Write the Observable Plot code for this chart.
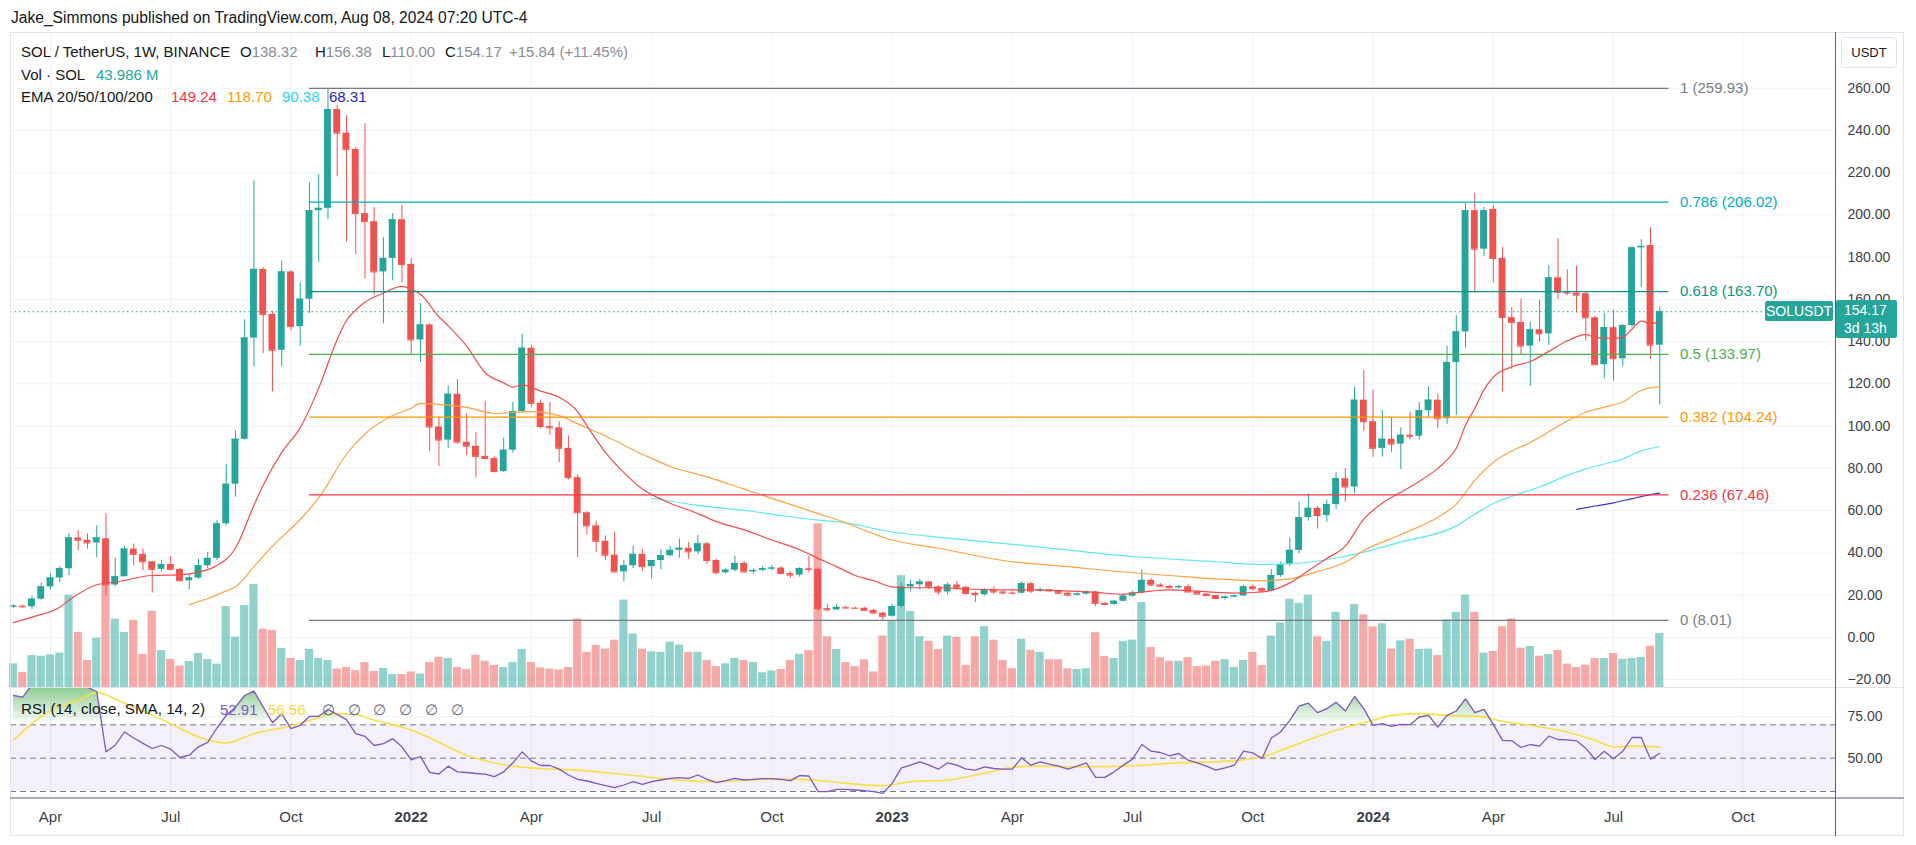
<!DOCTYPE html>
<html>
<head>
<meta charset="utf-8">
<script src="https://cdn.jsdelivr.net/npm/d3@7"></script>
<script src="https://cdn.jsdelivr.net/npm/@observablehq/plot@0.6"></script>
<style>
  html, body { margin: 0; padding: 0; background: #ffffff; }
  #root { position: relative; width: 1916px; height: 845px; overflow: hidden; background: #ffffff;
    font-family: "Liberation Sans", Arial, sans-serif; color: #131722; }
  #root svg { position: absolute; left: 0; top: 0; }
  .abs { position: absolute; white-space: nowrap; line-height: 1; }
</style>
</head>
<body>
<div id="root"></div>
<script>
// ---------------- DATA ----------------
const firstBar = "2021-03-08";      // first weekly bar visible
const afterLastBar = "2024-08-06";  // bars run up to the week of 2024-08-05

const openPrices = [
14.5,14.8,14.5,18.1,23.9,28.1,32.5,47.1,46.0,44.7,
46.7,24.8,28.7,41.8,39.3,35.8,32.2,34.5,32.2,26.8,
28.1,33.9,37.4,53.8,72.5,93.8,141.7,174.2,152.9,135.9,
173.0,147.1,160.1,202.0,203.1,249.9,238.7,231.0,200.6,196.8,
173.0,179.4,197.7,176.5,140.8,147.9,99.6,93.4,115.1,92.4,
90.5,85.7,84.7,78.5,88.6,106.9,136.9,110.8,99.8,99.2,
89.5,75.6,59.0,52.8,45.5,38.9,31.0,33.9,39.3,33.5,
36.4,38.7,41.2,42.2,40.5,44.3,36.4,30.6,31.8,35.0,
31.0,31.7,32.5,32.8,30.2,29.5,32.5,32.2,13.6,13.0,
14.2,13.9,13.8,12.8,11.5,10.0,14.6,23.9,24.9,26.2,
23.9,21.5,24.8,23.7,20.8,20.2,22.4,21.5,21.0,20.9,
25.4,21.9,22.5,22.0,20.9,20.0,20.5,21.5,16.1,15.6,
17.1,19.5,21.0,27.0,24.8,24.2,23.5,24.0,21.5,20.5,
19.8,18.4,19.1,19.6,23.9,23.1,21.9,29.3,34.5,41.2,
56.7,61.1,57.7,62.9,75.1,71.2,112.3,102.1,89.5,93.8,
91.5,95.7,95.2,107.3,112.3,103.5,130.1,144.6,202.0,183.8,
202.6,179.4,151.4,149.1,137.9,145.6,143.7,170.2,163.4,163.0,
162.7,151.3,129.1,146.6,131.9,147.6,184.4,185.5,138.32];

const highPrices = [
15.5,15.3,19.6,25.8,30.0,33.5,49.0,50.5,49.0,52.8,
58.6,37.4,43.2,44.2,41.8,35.8,36.4,38.3,32.6,30.0,
37.0,40.3,55.2,81.8,97.7,150.4,216.1,175.0,154.3,178.0,
173.6,167.8,215.1,219.0,259.9,251.8,247.0,232.0,243.1,203.5,
189.1,200.6,204.5,179.4,158.1,148.5,104.0,118.9,122.0,106.0,
96.9,111.8,85.5,94.4,111.2,143.6,138.2,112.4,111.2,102.1,
95.3,77.0,59.5,54.8,48.0,49.9,36.4,43.2,41.6,36.4,
41.6,43.0,46.5,45.0,48.2,45.0,37.0,32.5,38.5,36.0,
32.5,33.5,34.0,33.5,31.0,33.0,38.3,32.8,15.5,15.5,
14.8,14.3,14.2,13.2,11.9,15.7,25.5,27.0,27.5,26.5,
24.5,25.8,26.5,24.0,21.5,23.0,23.9,22.0,21.5,26.2,
26.2,23.5,22.8,22.3,21.5,21.0,22.0,21.8,16.5,17.5,
20.5,21.8,32.0,27.8,25.5,24.6,24.7,25.0,22.0,20.8,
20.1,19.6,20.0,24.8,24.9,23.5,32.0,35.5,47.0,64.0,
67.9,62.0,65.0,78.0,79.9,118.5,126.3,117.0,107.3,104.0,
99.2,106.6,111.2,118.5,115.1,137.9,152.3,205.5,210.3,203.5,
204.5,184.6,156.2,160.1,149.1,159.5,176.0,188.7,174.0,175.6,
163.4,152.0,153.3,155.0,148.1,185.1,188.2,193.9,156.38];

const lowPrices = [
13.8,13.9,13.2,17.6,22.3,26.0,29.3,41.2,41.8,37.8,
19.6,23.9,28.7,33.9,31.6,21.0,31.0,31.6,26.3,22.5,
27.3,32.5,36.4,52.8,66.4,93.4,128.2,134.4,116.2,128.2,
145.2,137.9,153.3,177.4,197.7,218.0,187.1,181.3,169.7,162.0,
148.5,168.8,167.8,134.0,130.1,88.0,80.9,89.5,91.5,86.1,
75.6,84.0,77.9,78.0,87.2,106.0,108.9,98.8,95.7,82.8,
74.5,37.8,48.6,40.3,36.4,30.6,26.4,32.6,31.2,27.7,
32.0,38.0,37.5,37.0,39.0,34.5,29.6,29.9,31.0,30.5,
30.0,31.0,31.5,29.8,28.0,28.5,30.5,12.3,12.2,12.6,
13.4,13.3,12.2,11.0,8.01,9.6,14.0,21.5,22.4,22.5,
20.0,20.0,22.5,20.0,16.5,19.5,20.5,20.3,20.3,20.5,
20.8,21.2,21.5,20.3,19.5,19.6,20.0,14.5,15.0,15.3,
16.8,19.0,20.5,24.2,23.6,23.0,22.9,21.0,20.0,19.2,
17.8,17.6,18.8,19.3,22.1,21.1,21.5,28.5,33.5,39.5,
55.0,51.3,54.5,60.5,64.0,67.9,97.7,85.3,85.3,87.6,
79.5,93.4,93.4,104.0,98.8,100.8,105.0,136.9,163.0,180.4,
167.8,116.2,126.8,133.6,118.9,139.8,138.2,160.0,161.8,153.5,
140.2,128.8,122.4,121.3,128.2,146.8,165.8,131.6,110.00];

const closePrices = [
14.8,14.5,18.1,23.9,28.1,32.5,47.1,46.0,44.7,47.1,
24.8,28.7,41.8,39.3,35.8,32.2,34.5,32.2,26.8,28.1,
33.9,37.4,53.8,72.5,93.8,141.7,174.2,152.9,135.9,173.0,
147.1,160.1,202.0,203.1,249.9,238.7,231.0,200.6,196.8,173.0,
179.4,197.7,176.5,140.8,147.9,99.6,93.4,115.1,92.4,90.5,
85.7,84.7,78.5,88.6,106.9,136.9,110.8,99.8,99.2,89.5,
75.6,59.0,52.8,45.5,38.9,31.0,33.9,39.3,33.5,36.4,
38.7,41.2,42.2,40.5,44.3,36.4,30.6,31.8,35.0,31.0,
31.7,32.5,32.8,30.2,29.5,32.5,32.2,13.6,13.0,14.2,
13.9,13.8,12.8,11.5,10.0,14.6,23.9,24.9,26.2,23.9,
21.5,24.8,23.7,20.8,20.2,22.4,21.5,21.0,20.9,25.4,
21.9,22.5,22.0,20.9,20.0,20.5,21.5,16.1,15.6,17.1,
19.5,21.0,27.0,24.8,24.2,23.5,24.0,21.5,20.5,19.8,
18.4,19.1,19.6,23.9,23.1,21.9,29.3,34.5,41.2,56.7,
61.1,57.7,62.9,75.1,71.2,112.3,102.1,89.5,93.8,91.5,
95.7,95.2,107.3,112.3,103.5,130.1,144.6,202.0,183.8,202.0,
179.4,151.4,149.1,137.9,145.6,143.7,170.2,163.4,163.0,162.0,
151.3,129.1,146.6,131.9,147.6,184.4,185.1,138.32,154.17];

// weekly volume, millions of SOL
const volumeM = [
19.3,12.2,26,25.5,26.6,28,75.2,44.8,22,40.2,
103,55.6,44.8,54.6,26.9,62.1,30.1,22.8,17.4,21.2,
27.7,22.8,19.0,65.9,41,66.8,83.9,47.5,46.4,31.8,
23.7,22,31,23.7,22,15,16.3,13.7,20.2,13.1,
15.5,10.6,10.5,12.6,11,20.3,24.6,23.7,16.3,14.7,
26.3,21.3,18,16.3,20.3,31,20.3,16,15,14.3,
16.3,55.9,28.6,34.3,31.3,38.6,71.2,43.6,31.3,29,
28.6,37,34.6,28.6,28.6,22,17,19.3,23.7,22,
20.3,12,13.4,14.7,22,27,30,133.3,41.3,31,
20.3,17,22.6,12.7,41.9,54.2,91.1,61.9,41.3,37.6,
31,41.9,40.9,18,41.3,49.6,38.6,22,15.3,39.3,
30.3,28.6,22.6,22.6,15.3,14.7,15.3,44.6,25.3,23.7,
37.6,38.6,69.2,32.6,24.3,21.3,21.3,24.3,17,17.5,
21.3,22.6,16.3,22,28.6,18,41.9,52.6,71.9,68.5,
75.2,41.3,37.6,61.2,54.6,67.5,59.2,49.3,51.9,31.3,
38,39.3,31,31.3,26,55.2,61.2,75.2,61.2,28,
29.3,49.5,55.9,32,33.4,25.5,26.9,30.1,19,16.3,
18.2,23.6,23.6,27.7,22.8,23.6,24.4,33.6,43.986];

// RSI(14) per week
const rsiValues = [
87.6,86.6,94,96,97,97.5,98,95,92.5,90.0,
53.8,57.8,65.7,62.1,58.9,55.8,57.6,55.4,50.4,51.8,
56.8,59.5,68.1,75.7,80.6,87.6,90.2,80.6,71.3,76.7,
67.7,69.7,75.1,75.1,79.2,76.3,73.1,64.7,63.1,57.6,
58.7,61.7,56.8,49.0,51.0,41.5,40.5,45.2,41.8,41.4,
40.8,40.4,38.9,41.8,47.2,53.8,48.2,45.6,45.6,43.4,
39.9,37.3,36.3,34.9,33.5,32.3,33.9,35.9,34.3,35.9,
36.9,37.9,38.3,37.9,39.9,37.3,35.3,36.5,37.9,36.9,
37.3,37.7,37.7,37.3,36.5,39.5,39.3,29.9,29.9,31.3,
31.3,30.9,30.5,29.9,28.9,34.9,44.2,45.8,47.8,45.8,
43.4,47.2,45.8,43.4,42.8,44.8,43.8,43.4,43.4,50.2,
45.8,47.8,46.4,45.2,43.4,45.2,47.2,38.5,38.5,41.8,
45.8,49.4,58.2,54.2,53.4,51.4,52.8,48.8,47.2,45.2,
42.8,44.2,45.8,54.2,53.2,49.8,62.1,65.7,72.7,81.2,
83.0,77.3,79.7,83.6,78.3,87.0,79.7,69.7,70.7,69.1,
70.3,70.1,74.7,75.7,68.7,75.7,78.3,85.6,77.3,79.3,
70.3,60.7,60.4,56.4,58.2,57.2,63.2,61.2,61.0,60.4,
56.0,49.2,54.2,49.6,54.2,62.4,62.4,49.4,52.91];

// [week number, value] points
const rsiSma = [[0,60.7],[2,70.7],[4,78.6],[7,84.6],[9,89.5],[11,85.5],[13,80.6],[17,70.7],[20,62.7],[23,59.1],[26,64.7],[30,69.3],[33,74.3],[35,76.7],[37,76.2],[39,72.7],[42,68.7],[44,64.7],[49,51.8],[54,45.2],[57,43.8],[61,42.8],[65,40.8],[70,37.9],[73,36.5],[76,35.9],[81,37.3],[85,37.3],[90,34.9],[94,33.5],[97,35.9],[101,36.9],[104,39.9],[108,44.4],[110,45.2],[116,44.8],[120,45.2],[126,47.2],[132,48.4],[135,50.8],[139,58.8],[143,66.7],[147,72.7],[149,75.7],[152,76.7],[155,75.7],[159,74.7],[161,72.1],[164,69.7],[168,65.7],[171,60.7],[173,56.8],[175,57.2],[178,56.56]];

const ema20 = [[0,7.0],[2,9.6],[5,14.3],[6,17.6],[9,24.9],[11,26.1],[15,29.3],[18,29.6],[20,30.9],[22,34.0],[24,42.2],[26,62.5],[27,72],[29,87.6],[31,99.2],[33,118],[35,141],[36,150],[37,155],[38,158.7],[40,163.0],[42,166.2],[43,164.9],[44,162.4],[46,151.8],[47,147.5],[49,137.9],[51,125.3],[53,120.5],[54,118.5],[55,119.5],[57,116.6],[59,113.7],[61,106.9],[62,100.2],[64,87.6],[66,78],[68,70.2],[71,63.5],[74,58.6],[76,54.8],[79,50.9],[82,46.1],[85,41.5],[87,37.4],[89,33.5],[91,29.3],[93,26.8],[95,23.9],[97,23.5],[100,23.5],[103,22.9],[107,22.5],[110,22.5],[114,21.9],[117,21.3],[120,20.4],[121,21.0],[123,21.9],[125,22.5],[128,21.9],[130,21.3],[132,21.0],[135,21.5],[138,25.8],[140,31.6],[142,37.4],[144,43.2],[146,56],[148,63.5],[151,71.2],[154,80],[155,84],[156,89.5],[157,100.5],[158,108.4],[159,117.3],[160,123.2],[162,128.1],[164,130.6],[166,135.4],[168,140.4],[170,143.3],[171,142],[173,141.6],[174,142],[175,146],[176,149.7],[177,148.6],[178,149.24]];
const ema50 = [[19,15.5],[21,18.4],[23,22],[24,23.9],[26,33.5],[28,43.2],[31,55.8],[33,66],[36,86.7],[38,96.3],[41,105.0],[43,108.5],[44,110.8],[46,110.3],[49,108.9],[52,106],[56,106.9],[59,105.0],[61,101.1],[64,95.3],[68,86.7],[71,80.9],[75,76.0],[79,70.2],[83,64.4],[87,58.6],[89,55.8],[95,46.1],[100,42.2],[107,36.4],[114,33.5],[121,30.6],[125,29.3],[130,27.7],[135,26.8],[138,27.7],[141,31.2],[144,35.6],[146,41.1],[150,48.7],[154,56.9],[156,63.1],[158,74.3],[160,82.9],[162,88.2],[164,92.3],[166,97.3],[168,102.4],[170,106.6],[172,109],[174,111.4],[176,117],[178,118.7]];
const ema100 = [[69,66.0],[74,62.5],[80,59.6],[83,57.7],[87,55.5],[89,54.8],[95,49.9],[101,47.0],[110,43.2],[121,38.3],[130,35.8],[135,34.5],[139,35.1],[144,38.4],[150,45.1],[156,52.8],[158,58.3],[160,63.4],[162,66.8],[165,71.2],[168,76.7],[170,79.8],[172,82.1],[174,84.4],[176,88.3],[178,90.38]];
const ema200 = [[169,60.6],[171,62.2],[173,63.7],[175,65.7],[177,67.6],[178,68.31]];

// Fibonacci retracement drawing
const fibLevels = [1, 0.786, 0.618, 0.5, 0.382, 0.236, 0];
const fibPrices = [259.93, 206.02, 163.70, 133.97, 104.24, 67.46, 8.01];
const fibColors = ["#787b86", "#00acc1", "#0e9384", "#4caf50", "#ff9800", "#f23645", "#787b86"];
const fibFrom = "2021-10-18", fibTo = "2024-08-12";

// axes
const priceTicks = [-20, 0, 20, 40, 60, 80, 100, 120, 140, 160, 180, 200, 220, 240, 260];
const rsiTicks = [75, 50];
const rsiBands = [70, 50, 30];
const tickDates = ["2021-04-05","2021-07-05","2021-10-04","2022-01-03","2022-04-04","2022-07-04","2022-10-03","2023-01-02","2023-04-03","2023-07-03","2023-10-02","2024-01-01","2024-04-01","2024-07-01","2024-10-07"];
const tickLabels = ["Apr","Jul","Oct","2022","Apr","Jul","Oct","2023","Apr","Jul","Oct","2024","Apr","Jul","Oct"];

// ---------------- BUILD ----------------
const root = document.getElementById("root");
const W = 1916, H = 845;
const FONT = '"Liberation Sans", Arial, sans-serif';
const UP = "#26a69a", DOWN = "#ef5350";
const UP_VOL = "rgba(38,166,154,0.5)", DOWN_VOL = "rgba(239,83,80,0.5)";
const GRID = "#f0f3fa";
const AXIS_TEXT = "#3d3f47";
const DAY = 864e5;
const shift = (d, days) => new Date(+d + days * DAY);

const weeks = d3.utcMonday.range(new Date(firstBar), new Date(afterLastBar));
const candles = weeks.map((date, i) => ({
  date, open: openPrices[i], high: highPrices[i], low: lowPrices[i], close: closePrices[i],
  volume: volumeM[i], rsi: rsiValues[i], up: closePrices[i] >= openPrices[i]
}));
const lastPrice = closePrices[closePrices.length - 1];
const fibTable = fibLevels.map((level, i) => ({level, price: fibPrices[i], color: fibColors[i]}));
const tickObjs = tickDates.map(s => new Date(s));
const labelOf = new Map(tickObjs.map((d, i) => [+d, tickLabels[i]]));
const monthTicks = tickObjs.filter((d, i) => !/^\d{4}$/.test(tickLabels[i]));
const yearTicks = tickObjs.filter((d, i) => /^\d{4}$/.test(tickLabels[i]));

const xDomain = [new Date("2021-03-05T17:30:00Z"), new Date("2024-12-16T00:00:00Z")];
const priceDomain = [-23.72, 286.35];
const base = {width: W, height: H, marginLeft: 10, marginRight: 81,
  style: {background: "transparent", fontFamily: FONT, overflow: "visible"}};
const emaPoint = p => ({date: weeks[p[0]], v: p[1]});

// layer A: price-pane grid
const gridPlot = Plot.plot({...base, marginTop: 32, marginBottom: 158,
  x: {type: "utc", domain: xDomain, axis: null},
  y: {domain: priceDomain, axis: null},
  marks: [
    Plot.gridY(priceTicks, {stroke: GRID, strokeOpacity: 1}),
    Plot.gridX(tickObjs, {stroke: GRID, strokeOpacity: 1})
  ]
});
root.appendChild(gridPlot);

// layer B: volume
const volPlot = Plot.plot({...base, marginTop: 32, marginBottom: 158,
  x: {type: "utc", domain: xDomain, axis: null},
  y: {domain: [0, 533.4], axis: null},
  marks: [
    Plot.rect(candles, {x1: d => shift(d.date, -3.1), x2: d => shift(d.date, 3.1),
      y1: () => 0, y2: "volume", fill: d => d.up ? UP_VOL : DOWN_VOL})
  ]
});
root.appendChild(volPlot);

// layer C: candles, EMAs, fib, price axis
const main = Plot.plot({...base, marginTop: 32, marginBottom: 158,
  x: {type: "utc", domain: xDomain, axis: null},
  y: {domain: priceDomain},
  marks: [
    Plot.ruleY([lastPrice], {stroke: UP, strokeDasharray: "1.5,3", strokeWidth: 1}),
    Plot.ruleX(candles, {x: "date", y1: "low", y2: "high", stroke: d => d.up ? UP : DOWN, strokeWidth: 1}),
    Plot.rect(candles, {x1: d => shift(d.date, -2.6), x2: d => shift(d.date, 2.6),
      y1: "open", y2: "close", fill: d => d.up ? UP : DOWN}),
    Plot.ruleY(candles, {y: "close", x1: d => shift(d.date, -2.6), x2: d => shift(d.date, 2.6),
      stroke: d => d.up ? UP : DOWN}),
    Plot.line(ema200.map(emaPoint), {x: "date", y: "v", stroke: "#3a32d0", strokeWidth: 1.2, curve: "monotone-x"}),
    Plot.line(ema100.map(emaPoint), {x: "date", y: "v", stroke: "#5ee6f4", strokeWidth: 1.2, curve: "monotone-x"}),
    Plot.line(ema50.map(emaPoint), {x: "date", y: "v", stroke: "#ffa040", strokeWidth: 1.2, curve: "monotone-x"}),
    Plot.line(ema20.map(emaPoint), {x: "date", y: "v", stroke: "#ef4c4c", strokeWidth: 1.2, curve: "monotone-x"}),
    Plot.ruleY(fibTable, {y: "price", x1: () => new Date(fibFrom), x2: () => new Date(fibTo), stroke: "color", strokeWidth: 1.2}),
    Plot.text(fibTable, {x: () => new Date(fibTo), y: "price", text: d => `${d.level} (${d.price.toFixed(2)})`,
      fill: "color", textAnchor: "start", dx: 11, fontSize: 15}),
    Plot.axisY({ticks: priceTicks, anchor: "right", tickSize: 0, tickPadding: 12, fontSize: 14,
      color: AXIS_TEXT, label: null, tickFormat: d => d.toFixed(2).replace("-", "\u2212")})
  ]
});
root.appendChild(main);

// layer D: RSI pane + time axis
const rsiPlot = Plot.plot({...base, marginTop: 688, marginBottom: 47,
  x: {type: "utc", domain: xDomain},
  y: {domain: [25.8, 91.8]},
  marks: [
    Plot.gridX(tickObjs, {stroke: GRID, strokeOpacity: 1}),
    Plot.gridY([75], {stroke: GRID, strokeOpacity: 1}),
    Plot.rect([0], {x1: () => xDomain[0], x2: () => xDomain[1], y1: () => 30, y2: () => 70, fill: "#7e57c2", fillOpacity: 0.09}),
    Plot.ruleY(rsiBands, {stroke: "#787b86", strokeDasharray: "6,4", strokeWidth: 1}),
    Plot.areaY(candles, {x: "date", y1: () => 70, y2: d => Math.max(70, d.rsi), fill: "url(#rsiOB)", clip: true}),
    Plot.areaY(candles, {x: "date", y1: d => Math.min(30, d.rsi), y2: () => 30, fill: "url(#rsiOS)", clip: true}),
    Plot.line(rsiSma.map(emaPoint), {x: "date", y: "v", stroke: "#f8df4a", strokeWidth: 1.6, curve: "monotone-x", clip: true}),
    Plot.line(candles, {x: "date", y: "rsi", stroke: "#7e57c2", strokeWidth: 1.3, clip: true}),
    Plot.axisX({ticks: monthTicks, anchor: "bottom", tickSize: 0, tickPadding: 13, fontSize: 15,
      color: AXIS_TEXT, label: null, tickFormat: d => labelOf.get(+d)}),
    Plot.axisX({ticks: yearTicks, anchor: "bottom", tickSize: 0, tickPadding: 13, fontSize: 15, fontWeight: "bold",
      color: AXIS_TEXT, label: null, tickFormat: d => labelOf.get(+d)}),
    Plot.axisY({ticks: rsiTicks, anchor: "right", tickSize: 0, tickPadding: 12, fontSize: 14,
      color: AXIS_TEXT, label: null, tickFormat: d => d.toFixed(2)})
  ]
});
{
  const ry = rsiPlot.scale("y");
  const yTop = ry.apply(100), y70 = ry.apply(70), y30 = ry.apply(30), yBot = ry.apply(0);
  const defs = document.createElementNS("http://www.w3.org/2000/svg", "defs");
  defs.innerHTML =
    `<linearGradient id="rsiOB" gradientUnits="userSpaceOnUse" x1="0" x2="0" y1="${yTop}" y2="${y70}">
       <stop offset="0" stop-color="#4caf50" stop-opacity="0.85"/><stop offset="1" stop-color="#4caf50" stop-opacity="0"/></linearGradient>
     <linearGradient id="rsiOS" gradientUnits="userSpaceOnUse" x1="0" x2="0" y1="${y30}" y2="${yBot}">
       <stop offset="0" stop-color="#f23645" stop-opacity="0"/><stop offset="1" stop-color="#f23645" stop-opacity="0.85"/></linearGradient>`;
  rsiPlot.insertBefore(defs, rsiPlot.firstChild);
  rsiPlot.style.clipPath = "inset(688px 0px 0px 0px)";
}
root.appendChild(rsiPlot);

// ---------------- chrome: frame lines, legends, labels ----------------
function box(l, t, w, h, css) {
  const d = document.createElement("div");
  d.className = "abs";
  Object.assign(d.style, {left: l + "px", top: t + "px", width: w + "px", height: h + "px"}, css || {});
  root.appendChild(d);
  return d;
}
function text(str, x, cy, size, color, extra) {
  const d = document.createElement("div");
  d.className = "abs";
  d.innerHTML = str;
  Object.assign(d.style, {left: x + "px", top: (cy - size / 2) + "px", fontSize: size + "px",
    lineHeight: size + "px", color: color}, extra || {});
  root.appendChild(d);
  return d;
}
box(10, 32, 1894, 1, {background: "#e0e3eb"});
box(10, 32, 1, 804, {background: "#e0e3eb"});
box(1903, 32, 1, 804, {background: "#e0e3eb"});
box(10, 835, 1894, 1, {background: "#e0e3eb"});
box(10, 687, 1894, 1, {background: "#e0e3eb"});
box(10, 797, 1894, 2, {background: "#a9acb5"});
box(1835, 32, 1, 804, {background: "#5d606b"});

// header + legends
text("Jake_Simmons published on TradingView.com, Aug 08, 2024 07:20 UTC-4", 11, 18, 15.6, "#131722");
const DARK = "#131722", GREY = "#8a8d96";
text("SOL / TetherUS, 1W, BINANCE", 21, 51, 15, DARK);
text(`O<span style="color:${GREY}">138.32</span>`, 240, 51, 15, DARK);
text(`H<span style="color:${GREY}">156.38</span>`, 315, 51, 15, DARK);
text(`L<span style="color:${GREY}">110.00</span>`, 382, 51, 15, DARK);
text(`C<span style="color:${GREY}">154.17</span>`, 445, 51, 15, DARK);
text("+15.84 (+11.45%)", 509, 51, 15, GREY);
text("Vol · SOL", 21, 74, 15, DARK);
text("43.986 M", 96, 74, 15, "#26a69a");
text("EMA 20/50/100/200", 21, 96, 15, DARK);
text("149.24", 171, 96, 15, "#f23645");
text("118.70", 227, 96, 15, "#ff9800");
text("90.38", 282, 96, 15, "#22d8ee");
text("68.31", 329, 96, 15, "#1c1cc4");

text("RSI (14, close, SMA, 14, 2)", 21, 709, 15.2, DARK);
text("52.91", 220, 709, 15, "#7e57c2");
text("56.56", 268, 709, 15, "#f5d63d");
[322, 348, 373, 399, 425, 451].forEach(x => text("\u2205", x, 709, 15, "#6a6d78"));

// USDT currency box
box(1841, 37, 56, 31, {border: "1px solid #e0e3eb", borderRadius: "4px", background: "#fff",
  boxSizing: "border-box", fontSize: "13px", lineHeight: "29px", textAlign: "center", color: DARK}).textContent = "USDT";

// last price labels (the axis box covers the neighbouring tick labels, as in the original)
const yc = main.scale("y").apply(lastPrice);
box(1765, yc - 10, 68, 20, {background: "#26a69a", borderRadius: "2px", color: "#fff", fontSize: "14px",
  lineHeight: "20px", textAlign: "center"}).textContent = "SOLUSDT";
const pb = box(1836, yc - 11, 61, 38, {background: "#26a69a", borderRadius: "2px", color: "#fff", fontSize: "14px",
  lineHeight: "18px", paddingLeft: "8px", boxSizing: "border-box", paddingTop: "1px"});
pb.innerHTML = lastPrice.toFixed(2) + "<br>3d 13h";
</script>
</body>
</html>
